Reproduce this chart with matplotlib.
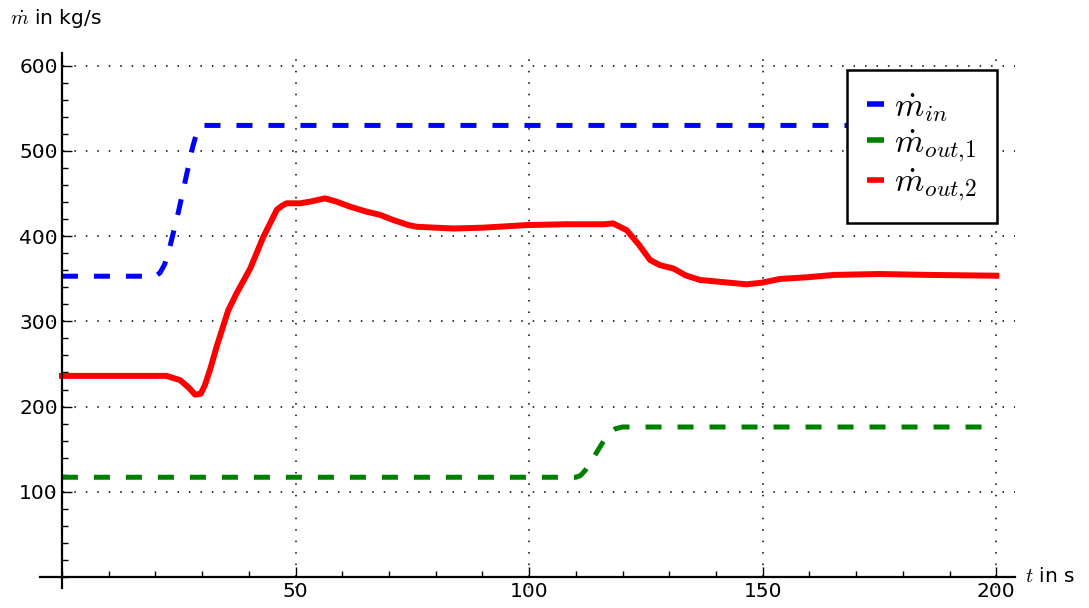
import matplotlib
matplotlib.use('Agg')
import matplotlib.pyplot as plt
from matplotlib.ticker import MultipleLocator

plt.rcParams['mathtext.fontset'] = 'cm'
plt.rcParams['font.family'] = 'DejaVu Sans'

# mass flow in (dashed blue)
t_in = [0, 20, 21, 22, 23, 25, 27, 28, 29, 30, 200]
m_in = [353, 353, 357, 367, 385, 430, 480, 505, 524, 530, 530]

# mass flow out 1 (dashed green)
t_out1 = [0, 110, 111, 112, 114, 116, 117.5, 118.5, 120, 200]
m_out1 = [117, 117, 119, 125, 142, 160, 170, 174, 176, 176]

# mass flow out 2 (solid red)
t_out2 = [0, 18.8, 22.4, 25.3, 27.2, 28.5, 29.7, 30.6, 31.8, 33.1, 35.6, 37.4, 40.3,
          43.1, 46.0, 47.2, 48.1, 51.0, 53.1, 56.3, 58.8, 61.7, 65.2, 68.1, 70.9, 74.2,
          76, 83.8, 90.2, 99.5, 108, 115.9, 118, 120.9, 123.5, 125.9, 128, 130.9,
          133.5, 136.6, 141.6, 146.6, 149.8, 153.7, 159.4, 165.2, 175, 185.9, 200]
m_out2 = [236, 236, 236, 231, 222, 214, 215, 225, 245, 270, 313, 333, 362,
          399, 431, 436, 438.6, 438.6, 440.5, 444.4, 440.5, 434.6, 428.8, 425, 419, 413,
          411, 409, 410, 413, 414, 414, 415, 407, 390, 372, 366, 362,
          354, 348.6, 346, 343.5, 345.4, 349.8, 351.7, 354.5, 355.6, 354.5, 353.6]

fig = plt.figure(figsize=(10.89, 6.08), dpi=100)
ax = fig.add_axes([0.0367, 0.0329, 0.8953, 0.8799])

ax.plot(t_in, m_in, color='#0000ff', lw=3.6, dashes=(3.2, 3.2), label=r'$\dot{m}_{in}$')
ax.plot(t_out1, m_out1, color='#008000', lw=3.6, dashes=(3.2, 3.2), label=r'$\dot{m}_{out{,}1}$')
ax.plot(t_out2, m_out2, color='#ff0000', lw=4.3, solid_joinstyle='round', label=r'$\dot{m}_{out{,}2}$')

ax.set_xlim(-4.7, 204)
ax.set_ylim(-13, 615)

for s in ['top', 'right']:
    ax.spines[s].set_visible(False)
ax.spines['left'].set_position(('data', 0))
ax.spines['bottom'].set_position(('data', 0))
ax.spines['left'].set_linewidth(1.6)
ax.spines['bottom'].set_linewidth(1.6)

ax.xaxis.set_minor_locator(MultipleLocator(10))
ax.yaxis.set_minor_locator(MultipleLocator(20))
ax.set_xticks([50, 100, 150, 200])
ax.set_yticks([100, 200, 300, 400, 500, 600])
ax.tick_params(which='major', direction='in', length=7, width=1, labelsize=14.5, pad=4)
ax.tick_params(which='minor', direction='in', length=4, width=1)
ax.tick_params(axis='y', which='major', pad=3)

ax.grid(True, which='major', color='black', linestyle=(0, (1, 6.5)), linewidth=1.1)

ax.text(1.01, 0.021, r'$t$ in s', transform=ax.transAxes, fontsize=14.5, va='center', ha='left')
fig.text(0.009, 0.97, r'$\dot{m}$ in kg/s', fontsize=14.5, va='center', ha='left')

leg = ax.legend(loc='upper right', bbox_to_anchor=(0.9815, 0.968), fontsize=24,
                handlelength=0.5, handletextpad=0.3, borderpad=0.6, labelspacing=0.05,
                borderaxespad=0, fancybox=False, framealpha=1)
leg.get_frame().set_edgecolor('black')
leg.get_frame().set_linewidth(1.8)
for h in leg.get_lines():
    h.set_linestyle('-')
    h.set_linewidth(4)
    h.set_solid_capstyle('butt')

fig.savefig('out.png', dpi=100)
